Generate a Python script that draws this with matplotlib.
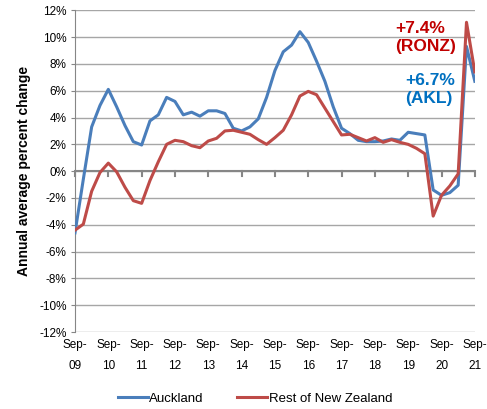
import numpy as np
import matplotlib.pyplot as plt

plt.rcParams['font.family'] = ['Liberation Sans', 'DejaVu Sans']

# quarterly, Sep-09 .. Sep-21
auckland = [-4.6, -0.6, 3.3, 4.9, 6.1, 4.8, 3.4, 2.2, 1.95, 3.75, 4.2, 5.5,
            5.2, 4.2, 4.4, 4.1, 4.5, 4.5, 4.3, 3.2, 3.0, 3.3, 3.9, 5.5,
            7.5, 8.9, 9.4, 10.4, 9.6, 8.2, 6.7, 4.8, 3.2, 2.8, 2.3, 2.2,
            2.2, 2.25, 2.4, 2.3, 2.9, 2.8, 2.7, -1.4, -1.8, -1.6, -1.05, 9.3, 6.7]
rest_nz = [-4.4, -3.95, -1.5, -0.1, 0.6, -0.05, -1.2, -2.2, -2.4, -0.7, 0.7, 2.0,
           2.3, 2.2, 1.9, 1.75, 2.25, 2.45, 3.0, 3.05, 2.9, 2.75, 2.35, 2.0,
           2.5, 3.05, 4.2, 5.6, 5.95, 5.7, 4.7, 3.7, 2.7, 2.75, 2.5, 2.25,
           2.5, 2.15, 2.35, 2.15, 2.0, 1.7, 1.3, -3.35, -1.8, -1.1, -0.2, 11.1, 7.4]
years = ["09", "10", "11", "12", "13", "14", "15", "16", "17", "18", "19", "20", "21"]

x = np.arange(len(auckland))

fig = plt.figure(figsize=(4.87, 4.09), dpi=100)
ax = fig.add_axes([0.154, 0.188, 0.821, 0.787])

ax.plot(x, auckland, color='#4A7EBB', lw=2.2, label='Auckland', zorder=3)
ax.plot(x, rest_nz, color='#BE4B48', lw=2.2, label='Rest of New Zealand', zorder=3)

ax.set_xlim(0, 48)
ax.set_ylim(-12, 12)
yt = np.arange(-12, 13, 2)
ax.set_yticks(yt)
ax.set_yticklabels(["%d%%" % v for v in yt], fontsize=8.5)
ax.set_xticks(np.arange(0, 49, 4))
ax.set_xticklabels(["Sep-\n" + y for y in years], fontsize=8.5, linespacing=2.0)
ax.tick_params(axis='x', length=0, pad=5)
ax.tick_params(axis='y', length=3, color='#868686', pad=3)

ax.grid(axis='y', color='#A6A6A6', lw=1)
for s in ['top', 'right', 'bottom']:
    ax.spines[s].set_visible(False)
ax.spines['left'].set_color('#868686')
ax.axhline(0, color='#868686', lw=1.5, zorder=2)
for xt in np.arange(0, 49, 4):
    ax.plot([xt, xt], [0, -0.35], color='#868686', lw=1.5, zorder=2, clip_on=False)

ax.set_ylabel("Annual average percent change", fontsize=10, fontweight='bold', labelpad=6)

ax.text(38.4, 9.95, "+7.4%\n(RONZ)", color='#C00000', fontsize=12.5, fontweight='bold',
        ha='left', va='center', linespacing=1.25)
ax.text(39.6, 6.1, "+6.7%\n(AKL)", color='#0070C0', fontsize=12.5, fontweight='bold',
        ha='left', va='center', linespacing=1.25)

ax.legend(loc='upper center', bbox_to_anchor=(0.45, -0.15), ncol=2, frameon=False,
          fontsize=9.5, handlelength=2.3, handletextpad=0.1, columnspacing=2.5)

fig.savefig("out.png", dpi=100)
